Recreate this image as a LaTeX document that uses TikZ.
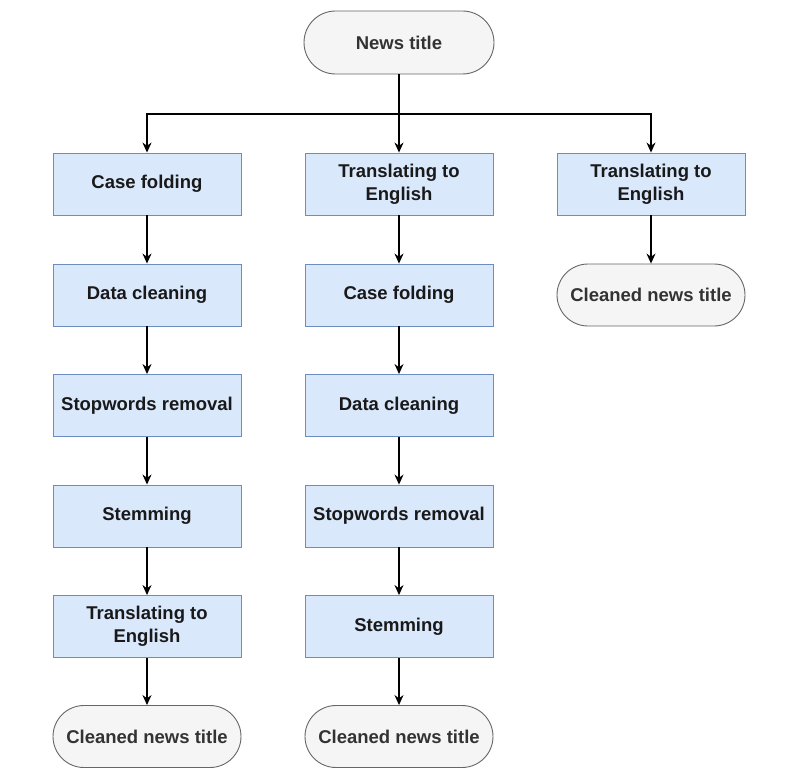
\documentclass[tikz,border=0pt]{standalone}
\usepackage{fontspec}
\setmainfont{Liberation Sans}
\usetikzlibrary{arrows.meta,shapes.misc}
\definecolor{boxfill}{HTML}{DAE8FC}
\definecolor{boxdraw}{HTML}{6C8EBF}
\definecolor{termfill}{HTML}{F5F5F5}
\definecolor{termdraw}{HTML}{666666}
\definecolor{termtext}{HTML}{333333}
\tikzset{
  procbox/.style={draw=boxdraw, fill=boxfill, line width=0.9pt, minimum width=188pt, minimum height=62pt,
    align=center, inner sep=0pt, font=\bfseries\fontsize{18.5}{23}\selectfont, text=black!90},
  termbox/.style={draw=termdraw, fill=termfill, line width=0.9pt, rounded rectangle, minimum width=188pt, minimum height=62pt,
    align=center, inner sep=0pt, font=\bfseries\fontsize{18.5}{23}\selectfont, text=termtext},
  arr/.style={line width=1.2pt, -{Stealth[length=10pt,width=9pt]}},
}
\begin{document}
\begin{tikzpicture}[x=1pt,y=-1pt]
\useasboundingbox (0,0) rectangle (794,781);
\node[termbox, minimum width=190pt, minimum height=63pt] (news) at (399,42.5) {News title};
\coordinate (split) at (399,114);
% left column
\node[procbox] (L1) at (147,184) {Case folding};
\node[procbox] (L2) at (147,295) {Data cleaning};
\node[procbox] (L3) at (147,405.5) {Stopwords removal};
\node[procbox] (L4) at (147,516) {Stemming};
\node[procbox] (L5) at (147,626.5) {Translating to\\English};
\node[termbox] (L6) at (147,736.5) {Cleaned news title};
% middle column
\node[procbox] (M1) at (399,184) {Translating to\\English};
\node[procbox] (M2) at (399,295) {Case folding};
\node[procbox] (M3) at (399,405.5) {Data cleaning};
\node[procbox] (M4) at (399,516) {Stopwords removal};
\node[procbox] (M5) at (399,626.5) {Stemming};
\node[termbox] (M6) at (399,736.5) {Cleaned news title};
% right column
\node[procbox] (R1) at (651,184) {Translating to\\English};
\node[termbox] (R2) at (651,295) {Cleaned news title};
% connectors
\draw[line width=1.2pt] (news.south) -- (split);
\draw[arr] (split) -| (L1.north);
\draw[arr] (split) -- (M1.north);
\draw[arr] (split) -| (R1.north);
\draw[arr] (L1) -- (L2);
\draw[arr] (L2) -- (L3);
\draw[arr] (L3) -- (L4);
\draw[arr] (L4) -- (L5);
\draw[arr] (L5) -- (L6);
\draw[arr] (M1) -- (M2);
\draw[arr] (M2) -- (M3);
\draw[arr] (M3) -- (M4);
\draw[arr] (M4) -- (M5);
\draw[arr] (M5) -- (M6);
\draw[arr] (R1) -- (R2);
\end{tikzpicture}
\end{document}
